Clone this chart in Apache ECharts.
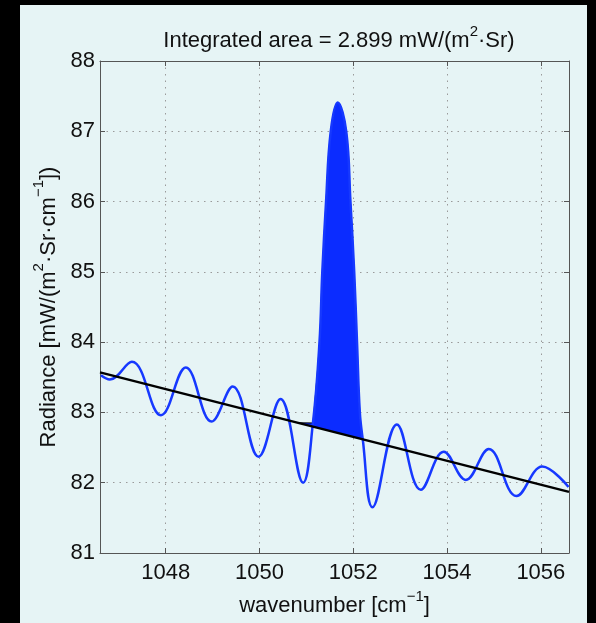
<!DOCTYPE html>
<html>
<head>
<meta charset="utf-8">
<script src="https://cdn.jsdelivr.net/npm/echarts@6/dist/echarts.min.js"></script>
<style>
html, body { margin: 0; padding: 0; background: #000; }
#panel { position: absolute; left: 20px; top: 5px; width: 567px; height: 618px; background: #e6f4f5; }
#chart { position: absolute; left: 0; top: 0; width: 596px; height: 623px; }
</style>
</head>
<body>
<div id="panel"></div>
<div id="chart"></div>
<script>
// spectrum (wavenumber in cm^-1, radiance in mW/(m2 Sr cm-1))
const wavenumber = [1046.62, 1046.81, 1047.28, 1047.90, 1048.43, 1048.98, 1049.43, 1049.98, 1050.45, 1050.93,
    1051.14, 1051.28, 1051.34, 1051.42, 1051.52, 1051.67, 1051.85, 1051.94, 1052.02, 1052.08, 1052.14, 1052.20,
    1052.41, 1052.93, 1053.44, 1053.93, 1054.40, 1054.89, 1055.48, 1056.03, 1056.59]
const radiance = [83.53, 83.47, 83.72, 82.96, 83.64, 82.87, 83.37, 82.37, 83.19, 82.00,
    82.85, 84.00, 85.00, 86.00, 87.00, 87.41, 87.00, 86.00, 85.00, 84.00, 83.00, 82.63,
    81.65, 82.83, 81.90, 82.44, 82.04, 82.48, 81.81, 82.23, 81.94]
// straight baseline under the spectrum
const baselineX = [1046.6, 1056.6]
const baselineY = [83.57, 81.87]
// indices of the spectrum points that bound the integrated (filled) band
const bandFrom = 10
const bandTo = 21
// thin sliver of the fill left of the band (flat top)
const wedgeX = [1050.82, 1051.14]
const wedgeTop = [82.85, 82.85]
const xTicks = [1048, 1050, 1052, 1054, 1056]

const baseAt = (x) => baselineY[0] + (baselineY[1] - baselineY[0]) * (x - baselineX[0]) / (baselineX[1] - baselineX[0])

const curveData = wavenumber.map((x, i) => [x, radiance[i]])
const lineData = baselineX.map((x, i) => [x, baselineY[i]])
const bandX = wavenumber.slice(bandFrom, bandTo + 1)
// value first so the stack happens on y (encode maps it back)
const bandBase = bandX.map((x) => [baseAt(x), x])
const bandDiff = bandX.map((x, i) => [radiance[bandFrom + i] - baseAt(x), x])
const wedgeBase = wedgeX.map((x) => [baseAt(x), x])
const wedgeDiff = wedgeX.map((x, i) => [Math.max(wedgeTop[i] - baseAt(x), 0), x])

const font = 'Liberation Sans'
const axisColor = '#555'
const textColor = '#111'
const fs = 22
const fillColor = '#0b2cff'

const rich = {
    n: { fontSize: fs, fontFamily: font, fontWeight: 'normal', color: textColor, verticalAlign: 'bottom', lineHeight: 28 },
    sup: { fontSize: 15, fontFamily: font, fontWeight: 'normal', color: textColor, verticalAlign: 'top', lineHeight: 16 },
}

const gridLine = { show: true, lineStyle: { color: '#9a9a9a', type: [1.5, 5], width: 1 } }

const chart = echarts.init(document.getElementById('chart'))
chart.setOption({
    backgroundColor: 'transparent',
    animation: false,
    title: {
        text: '{n|Integrated area = 2.899 mW/(m}{sup|2}{n|·Sr)}',
        left: 334,
        top: 19,
        textAlign: 'center',
        textStyle: { fontWeight: 'normal', rich },
    },
    grid: { left: 100, right: 27, top: 61, bottom: 70 },
    xAxis: [
        {
            type: 'value',
            min: 1046.6,
            max: 1056.6,
            position: 'bottom',
            name: '{n|wavenumber [cm}{sup|−1}{n|]}',
            nameLocation: 'middle',
            nameGap: 33,
            nameTextStyle: { rich },
            axisLine: { show: true, onZero: false, lineStyle: { color: axisColor, width: 1 } },
            axisTick: { show: true, inside: true, length: 5, customValues: xTicks, lineStyle: { color: axisColor } },
            axisLabel: { customValues: xTicks, fontSize: fs, fontFamily: font, color: textColor, margin: 9, formatter: (v) => String(v) },
            splitLine: gridLine,
        },
        {
            type: 'value',
            min: 1046.6,
            max: 1056.6,
            position: 'top',
            axisLine: { show: true, onZero: false, lineStyle: { color: axisColor, width: 1 } },
            axisTick: { show: true, inside: true, length: 5, customValues: xTicks, lineStyle: { color: axisColor } },
            axisLabel: { show: false },
            splitLine: { show: false },
        },
    ],
    yAxis: [
        {
            type: 'value',
            min: 81,
            max: 88,
            interval: 1,
            position: 'left',
            name: '{n|Radiance [mW/(m}{sup|2}{n|·Sr·cm}{sup|−1}{n|])}',
            nameLocation: 'middle',
            nameGap: 32,
            nameTextStyle: { rich },
            axisLine: { show: true, onZero: false, lineStyle: { color: axisColor, width: 1 } },
            axisTick: { show: true, inside: true, length: 5, lineStyle: { color: axisColor } },
            axisLabel: { fontSize: fs, fontFamily: font, color: textColor, margin: 5 },
            splitLine: gridLine,
        },
        {
            type: 'value',
            min: 81,
            max: 88,
            interval: 1,
            position: 'right',
            axisLine: { show: true, onZero: false, lineStyle: { color: axisColor, width: 1 } },
            axisTick: { show: true, inside: true, length: 5, lineStyle: { color: axisColor } },
            axisLabel: { show: false },
            splitLine: { show: false },
        },
    ],
    series: [
        {
            name: 'wedgeBase',
            type: 'line',
            stack: 'wedge',
            data: wedgeBase,
            encode: { x: 1, y: 0 },
            symbol: 'none',
            lineStyle: { width: 0, opacity: 0 },
            z: 2,
        },
        {
            name: 'wedge',
            type: 'line',
            stack: 'wedge',
            data: wedgeDiff,
            encode: { x: 1, y: 0 },
            symbol: 'none',
            lineStyle: { width: 1, color: '#000' },
            areaStyle: { color: fillColor, opacity: 1 },
            z: 2,
        },
        {
            name: 'bandBase',
            type: 'line',
            stack: 'band',
            data: bandBase,
            encode: { x: 1, y: 0 },
            symbol: 'none',
            lineStyle: { width: 0, opacity: 0 },
            z: 2,
        },
        {
            name: 'band',
            type: 'line',
            stack: 'band',
            data: bandDiff,
            encode: { x: 1, y: 0 },
            symbol: 'none',
            smooth: 0.4,
            lineStyle: { width: 1, color: '#000' },
            areaStyle: { color: fillColor, opacity: 1 },
            z: 2,
        },
        {
            name: 'spectrum',
            type: 'line',
            data: curveData,
            symbol: 'none',
            smooth: 0.4,
            lineStyle: { width: 2.5, color: '#1638ff' },
            z: 3,
        },
        {
            name: 'baseline',
            type: 'line',
            data: lineData,
            symbol: 'none',
            lineStyle: { width: 2.5, color: '#000' },
            z: 4,
        },
    ],
})
</script>
</body>
</html>
